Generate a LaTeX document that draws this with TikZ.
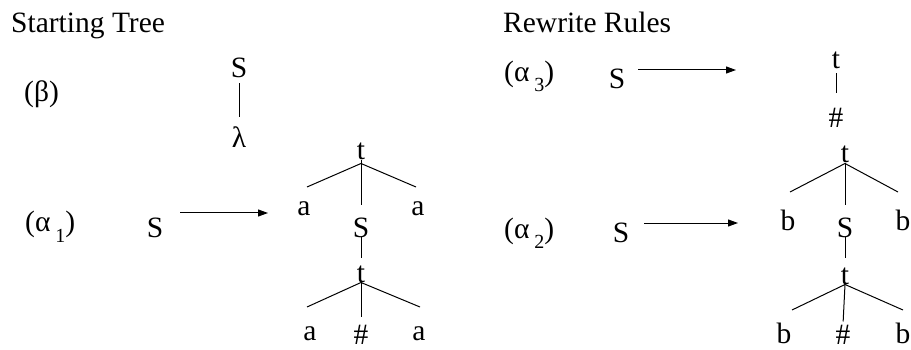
\documentclass[tikz,border=0pt]{standalone}
\usepackage{fontspec}
\setmainfont{Liberation Serif}
\usetikzlibrary{arrows.meta}
\newcommand{\rulesub}[1]{\,\raisebox{-10pt}{\fontsize{20}{24}\selectfont #1}}

\begin{document}
\begin{tikzpicture}[
  x=1pt,y=-1pt,
  lbl/.style={inner sep=0pt,anchor=base,font=\fontsize{29.5}{35}\selectfont},
  head/.style={lbl,anchor=base west},
  br/.style={line width=1pt},
  arr/.style={-{Triangle[length=10pt,width=7pt]},line width=1pt}
]
  \useasboundingbox (0,0) rectangle (911,350);

  % starting tree
  \node[head] (start) at (11,33) {Starting Tree};
  \node[head] (beta) at (24,102) {(β)};
  \node[lbl] (sb) at (239,78) {S};
  \node[lbl] (lam) at (239,148) {λ};

  \node[head] (alpha1) at (25,232) {(α\rulesub{1})};
  \node[lbl] (s1) at (155,237) {S};
  \coordinate (r1to) at (268,213);

  \node[lbl] (t1) at (361,160) {t};
  \coordinate (t1l) at (307,187);
  \coordinate (t1r) at (416,187);
  \node[lbl] (a1) at (304,215) {a};
  \node[lbl] (a2) at (418,215) {a};
  \node[lbl] (s2) at (361,237) {S};
  \node[lbl] (t2) at (361,282) {t};
  \coordinate (t2l) at (307,307);
  \coordinate (t2r) at (420,307);
  \node[lbl] (a3) at (310,340) {a};
  \node[lbl] (a4) at (419,340) {a};
  \node[lbl] (h1) at (361,344) {\#};

  % rewrite rules
  \node[head] (rules) at (503,33) {Rewrite Rules};
  \node[head] (alpha3) at (504,82) {(α\rulesub{3})};
  \node[lbl] (s3) at (617,89) {S};
  \coordinate (r3to) at (736,70);
  \node[lbl] (t3) at (836,69) {t};
  \node[lbl] (h2) at (836,128) {\#};

  \node[head] (alpha2) at (504,238) {(α\rulesub{2})};
  \node[lbl] (s5) at (621,243) {S};
  \coordinate (r2to) at (738,223);

  \node[lbl] (t4) at (845,163) {t};
  \coordinate (t4l) at (790,192);
  \coordinate (t4r) at (898,192);
  \node[lbl] (b1) at (788,230) {b};
  \node[lbl] (b2) at (903,230) {b};
  \node[lbl] (s4) at (845,237) {S};
  \node[lbl] (t5) at (845,284) {t};
  \coordinate (t5l) at (792,310);
  \coordinate (t5r) at (903,310);
  \node[lbl] (b3) at (784,343) {b};
  \node[lbl] (b4) at (903,343) {b};
  \node[lbl] (h3) at (843,344) {\#};

  \draw[br,shorten <=5pt,shorten >=10pt] (sb.south) -- (lam.north);

  \draw[arr] ([xshift=17pt]r1to -| s1.east) -- (r1to);
  \draw[br] (t1l) -- ([yshift=-3pt]t1.south) -- (t1r);
  \draw[br,shorten >=12pt] (t1.south) -- (s2.north);
  \draw[br,shorten >=7pt] (s2.south) -- (t2.north);
  \draw[br] (t2l) -- (t2.south) -- (t2r);
  \draw[br,shorten >=7pt] (t2.south) -- (h1.north);

  \draw[arr] ([xshift=13pt]r3to -| s3.east) -- (r3to);
  \draw[br,shorten <=4pt,shorten >=15pt] (t3.south) -- (h2.north);

  \draw[arr] ([xshift=15pt]r2to -| s5.east) -- (r2to);
  \draw[br] (t4l) -- (t4.south) -- (t4r);
  \draw[br,shorten >=12pt] (t4.south) -- (s4.north);
  \draw[br,shorten >=9pt] (s4.south) -- (t5.north);
  \draw[br] (t5l) -- (t5.south) -- (t5r);
  \draw[br,shorten >=3pt] (t5.south) -- (h3.north);
\end{tikzpicture}
\end{document}
